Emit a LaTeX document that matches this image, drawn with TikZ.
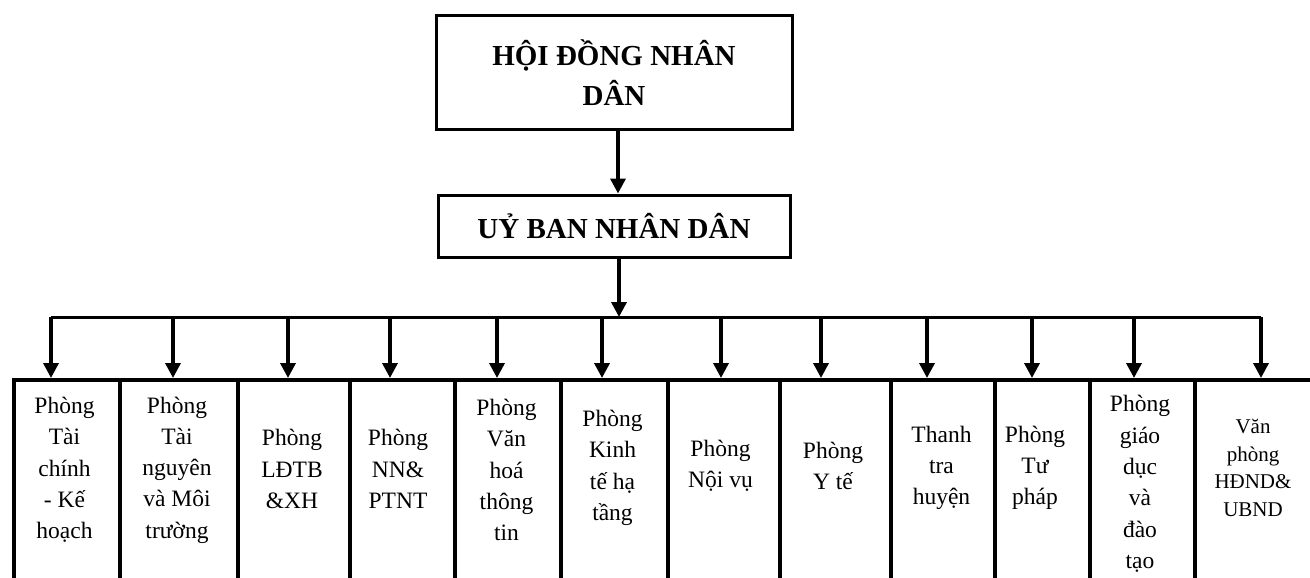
\documentclass[tikz,border=0pt]{standalone}
\usepackage{fontspec}
\setmainfont{Liberation Serif}
\usetikzlibrary{arrows.meta}
\begin{document}
\begin{tikzpicture}[x=1pt,y=-1pt,
  topbox/.style={draw,line width=3pt,align=center,font=\fontsize{29}{40}\selectfont\bfseries,inner sep=0pt},
  colbox/.style={draw,line width=4pt,anchor=north west,minimum height=260pt,inner sep=0pt},
  coltext/.style={align=center,font=\fontsize{23.5}{31.3}\selectfont,inner sep=0pt},
  smalltext/.style={align=center,font=\fontsize{21}{27.7}\selectfont,inner sep=0pt},
  arr/.style={line width=3.5pt,-{Triangle[length=15pt,width=15pt]}},
  bus/.style={line width=3pt}]
\useasboundingbox (0,0) rectangle (1310,578);
\clip (0,0) rectangle (1310,578);
\fill[white] (0,0) rectangle (1310,578);
% top boxes
\node[topbox,minimum width=356pt,minimum height=113pt] (hd) at (614,72.5) {HỘI ĐỒNG NHÂN\\DÂN};
\node[topbox,minimum width=352pt,minimum height=62pt] (ub) at (614,226) {UỶ BAN NHÂN DÂN};
% column boxes
\node[colbox,minimum width=106pt] (c1) at (12,378) {};
\node[colbox,minimum width=118pt] (c2) at (118,378) {};
\node[colbox,minimum width=112pt] (c3) at (236,378) {};
\node[colbox,minimum width=105pt] (c4) at (348,378) {};
\node[colbox,minimum width=106pt] (c5) at (453,378) {};
\node[colbox,minimum width=107pt] (c6) at (559,378) {};
\node[colbox,minimum width=112pt] (c7) at (666,378) {};
\node[colbox,minimum width=111pt] (c8) at (778,378) {};
\node[colbox,minimum width=104pt] (c9) at (889,378) {};
\node[colbox,minimum width=95pt] (c10) at (993,378) {};
\node[colbox,minimum width=105pt] (c11) at (1088,378) {};
\node[colbox,minimum width=140pt] (c12) at (1193,378) {};
% column texts
\node[coltext] (t1) at (64.5,470) {Phòng\\Tài\\chính\\- Kế\\hoạch};
\node[coltext] (t2) at (177,470) {Phòng\\Tài\\nguyên\\và Môi\\trường};
\node[coltext] (t3) at (292,469) {Phòng\\LĐTB\\\&XH};
\node[coltext] (t4) at (398,469) {Phòng\\NN\&\\PTNT};
\node[coltext] (t5) at (506.5,470) {Phòng\\Văn\\hoá\\thông\\tin};
\node[coltext] (t6) at (612.5,468) {Phòng\\Kinh\\tế hạ\\tầng};
\node[coltext] (t7) at (720.5,466) {Phòng\\Nội vụ};
\node[coltext] (t8) at (833,466) {Phòng\\Y tế};
\node[coltext] (t9) at (941.5,468) {Thanh\\tra\\huyện};
\node[coltext] (t10) at (1035,468) {Phòng\\Tư\\pháp};
\node[coltext] (t11) at (1140,484) {Phòng\\giáo\\dục\\và\\đào\\tạo};
\node[smalltext] (t12) at (1253,468) {Văn\\phòng\\HĐND\&\\UBND};
% connectors
\draw[arr] ([xshift=4pt]hd.south) -- ([xshift=4pt]hd.south |- ub.north);
\coordinate (b1) at (51,317);
\coordinate (b2) at (173,317);
\coordinate (b3) at (288,317);
\coordinate (b4) at (390,317);
\coordinate (b5) at (497,317);
\coordinate (b6) at (602,317);
\coordinate (b7) at (721,317);
\coordinate (b8) at (821,317);
\coordinate (b9) at (927,317);
\coordinate (b10) at (1032,317);
\coordinate (b11) at (1134,317);
\coordinate (b12) at (1261,317);
\draw[bus] (b1) -- (b12);
\draw[arr] ([xshift=5pt]ub.south) -- ([xshift=5pt]ub.south |- b1);
\foreach \i in {1,...,12}{
  \draw[arr] (b\i) -- (b\i |- c\i.north);
}
\end{tikzpicture}
\end{document}
